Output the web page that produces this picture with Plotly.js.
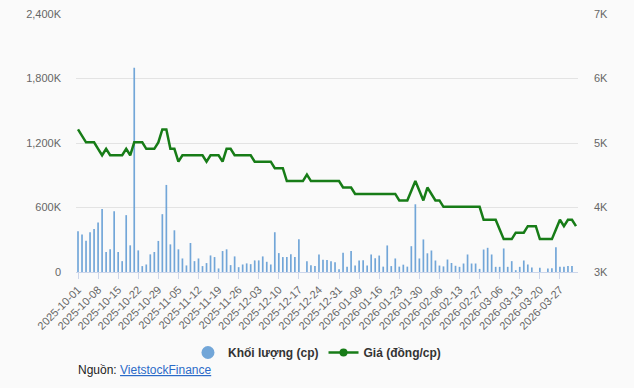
<!DOCTYPE html>
<html>
<head>
<meta charset="utf-8">
<script src="https://cdn.plot.ly/plotly-3.0.1.min.js"></script>
<style>
  html, body { margin: 0; padding: 0; background: #fafafa; }
  #chart { width: 634px; height: 388px; }
</style>
</head>
<body>
<div id="chart"></div>
<script>
// Trading days (categories)
const dates = [
  "2025-10-01","2025-10-02","2025-10-03","2025-10-06","2025-10-07","2025-10-08","2025-10-09","2025-10-10",
  "2025-10-13","2025-10-14","2025-10-15","2025-10-16","2025-10-17","2025-10-20","2025-10-21","2025-10-22",
  "2025-10-23","2025-10-24","2025-10-27","2025-10-28","2025-10-29","2025-10-30","2025-10-31",
  "2025-11-03","2025-11-04","2025-11-05","2025-11-06","2025-11-07","2025-11-10","2025-11-11","2025-11-12",
  "2025-11-13","2025-11-14","2025-11-17","2025-11-18","2025-11-19","2025-11-20","2025-11-21","2025-11-24",
  "2025-11-25","2025-11-26","2025-11-27","2025-11-28",
  "2025-12-01","2025-12-02","2025-12-03","2025-12-04","2025-12-05","2025-12-08","2025-12-09","2025-12-10",
  "2025-12-11","2025-12-12","2025-12-15","2025-12-16","2025-12-17","2025-12-18","2025-12-19","2025-12-22",
  "2025-12-23","2025-12-24","2025-12-25","2025-12-26","2025-12-29","2025-12-30","2025-12-31",
  "2026-01-05","2026-01-06","2026-01-07","2026-01-08","2026-01-09","2026-01-12","2026-01-13","2026-01-14",
  "2026-01-15","2026-01-16","2026-01-19","2026-01-20","2026-01-21","2026-01-22","2026-01-23","2026-01-26",
  "2026-01-27","2026-01-28","2026-01-29","2026-01-30",
  "2026-02-02","2026-02-03","2026-02-04","2026-02-05","2026-02-06","2026-02-09","2026-02-10","2026-02-11",
  "2026-02-12","2026-02-13","2026-02-23","2026-02-24","2026-02-25","2026-02-26","2026-02-27",
  "2026-03-02","2026-03-03","2026-03-04","2026-03-05","2026-03-06","2026-03-09","2026-03-10","2026-03-11",
  "2026-03-12","2026-03-13","2026-03-16","2026-03-17","2026-03-18","2026-03-19","2026-03-20","2026-03-23",
  "2026-03-24","2026-03-25","2026-03-26","2026-03-27","2026-03-30","2026-03-31",
  "2026-04-01","2026-04-02"
];

// Volume (shares)
const volume = [
  380000,350000,290000,370000,400000,460000,585000,186000,211000,566000,
  186000,101000,529000,248000,1900000,201000,55000,70000,164000,186000,
  289000,538000,810000,257000,388000,211000,126000,61000,270000,101000,
  126000,55000,83000,154000,139000,33000,195000,211000,64000,145000,
  45000,70000,80000,73000,108000,108000,145000,95000,70000,370000,
  176000,139000,139000,164000,139000,304000,0,101000,62000,56000,
  162000,115000,112000,101000,90000,26000,180000,50000,195000,60000,
  107000,109000,60000,163000,128000,153000,50000,247000,55000,126000,
  50000,68000,50000,240000,630000,126000,303000,174000,200000,107000,
  60000,52000,116000,84000,58000,48000,79000,163000,79000,79000,
  29000,209000,225000,163000,48000,48000,219000,48000,101000,17000,
  48000,107000,70000,42000,0,40000,0,32000,35000,230000,
  50000,48000,55000,55000,0
];

// Price (VND/share)
const price = [
  5210,5110,5010,5010,5010,4910,4810,4910,4810,4810,
  4810,4810,4910,4810,5010,5010,5010,4910,4910,4910,
  5010,5210,5210,4910,4910,4710,4810,4810,4810,4810,
  4810,4810,4710,4810,4810,4810,4710,4910,4910,4810,
  4810,4810,4810,4810,4710,4710,4710,4710,4710,4610,
  4610,4610,4410,4410,4410,4410,4410,4510,4410,4410,
  4410,4410,4410,4410,4410,4410,4310,4310,4310,4210,
  4210,4210,4210,4210,4210,4210,4210,4210,4210,4210,
  4110,4110,4110,4260,4410,4260,4110,4310,4210,4110,
  4110,4010,4010,4010,4010,4010,4010,4010,4010,4010,
  4010,3810,3810,3810,3810,3660,3510,3510,3510,3610,
  3610,3610,3710,3710,3710,3510,3510,3510,3510,3660,
  3810,3710,3810,3810,3710
];

// Axis tick labels
const xTickLabels = [
  "2025-10-01","2025-10-08","2025-10-15","2025-10-22","2025-10-29","2025-11-05","2025-11-12",
  "2025-11-19","2025-11-26","2025-12-03","2025-12-10","2025-12-17","2025-12-24","2025-12-31",
  "2026-01-09","2026-01-16","2026-01-23","2026-01-30","2026-02-06","2026-02-13","2026-02-27",
  "2026-03-06","2026-03-13","2026-03-20","2026-03-27"
];
const volTickVals = [0, 600000, 1200000, 1800000, 2400000];
const volTickText = ["0", "600K", "1,200K", "1,800K", "2,400K"];
const priceTickVals = [3000, 4000, 5000, 6000, 7000];
const priceTickText = ["3K", "4K", "5K", "6K", "7K"];

const seriesNames = ["Khối lượng (cp)", "Giá (đồng/cp)"];

const barColor = "#72a6d8";
const lineColor = "#177c17";
const FONT = "Liberation Sans, Arial, sans-serif";

const traces = [
  {
    type: "bar", x: dates, y: volume, yaxis: "y",
    marker: { color: barColor }, showlegend: false, hoverinfo: "x+y"
  },
  {
    type: "scatter", mode: "lines", x: dates, y: price, yaxis: "y2",
    line: { color: lineColor, width: 2.5 }, showlegend: false
  },
  // legend entries
  {
    type: "scatter", mode: "markers", x: [null], y: [null], yaxis: "y",
    name: seriesNames[0], marker: { color: barColor, size: 13, symbol: "circle" }
  },
  {
    type: "scatter", mode: "lines+markers", x: [null], y: [null], yaxis: "y2",
    name: seriesNames[1], line: { color: lineColor, width: 2.5 },
    marker: { color: lineColor, size: 8, symbol: "circle" }
  }
];

const layout = {
  width: 634, height: 388,
  margin: { l: 76, r: 56, t: 14, b: 116 },
  paper_bgcolor: "#fafafa",
  plot_bgcolor: "#fafafa",
  font: { family: FONT, size: 11, color: "#666666" },
  bargap: 0.58,
  xaxis: {
    type: "category",
    categoryorder: "array", categoryarray: dates,
    range: [-0.5, dates.length - 0.5],
    tickmode: "array", tickvals: xTickLabels, ticktext: xTickLabels,
    tickangle: -45,
    ticks: "outside", ticklen: 6, tickcolor: "#ccd6eb", tickwidth: 1,
    showline: true, linecolor: "#ccd6eb", linewidth: 1,
    showgrid: false, zeroline: false,
    tickfont: { family: FONT, size: 11, color: "#666666" }
  },
  yaxis: {
    range: [0, 2400000],
    tickmode: "array", tickvals: volTickVals, ticktext: volTickText,
    showgrid: true, gridcolor: "#e3e3e3", gridwidth: 1,
    zeroline: false, showline: false,
    ticks: "", ticklabelstandoff: 14,
    tickfont: { family: FONT, size: 11, color: "#666666" }
  },
  yaxis2: {
    overlaying: "y", side: "right",
    range: [3000, 7000],
    tickmode: "array", tickvals: priceTickVals, ticktext: priceTickText,
    showgrid: false, zeroline: false, showline: false,
    ticks: "", ticklabelstandoff: 15,
    tickfont: { family: FONT, size: 11, color: "#666666" }
  },
  legend: {
    orientation: "h",
    x: 0.48, xanchor: "center",
    y: -0.312, yanchor: "middle",
    bgcolor: "rgba(0,0,0,0)",
    font: { family: FONT, size: 12, color: "#333333", weight: "bold" },
    itemwidth: 30,
    tracegroupgap: 0
  },
  annotations: [
    {
      xref: "paper", yref: "paper",
      x: 0, y: -0.381, xanchor: "left", yanchor: "middle",
      showarrow: false,
      text: 'Nguồn: <a href="https://finance.vietstock.vn" style="color:#2a6ac8;text-decoration:underline">VietstockFinance</a>',
      font: { family: FONT, size: 12, color: "#222222" }
    }
  ]
};

Plotly.newPlot("chart", traces, layout, { displayModeBar: false, staticPlot: true });
</script>
</body>
</html>
